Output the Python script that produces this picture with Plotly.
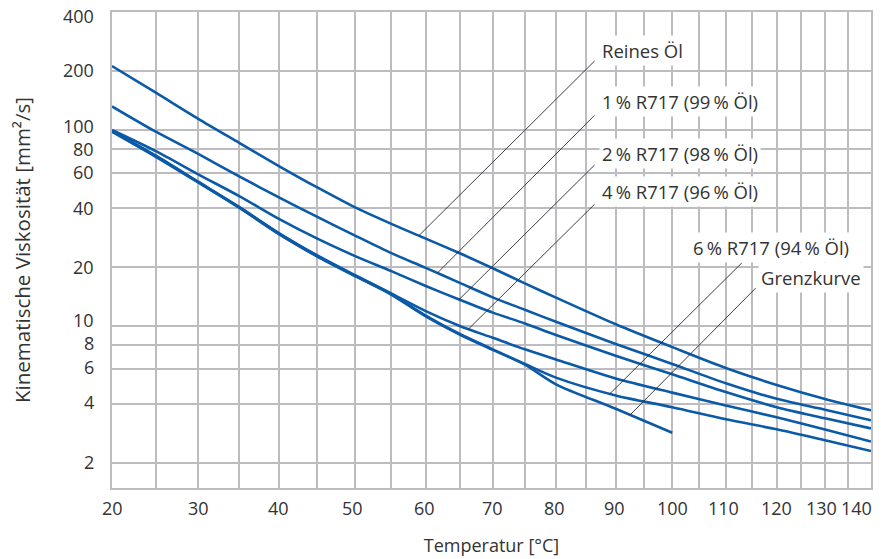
import numpy as np
import plotly.graph_objects as go

# ---------------- data ----------------
temps = [20, 25, 30, 35, 40, 45, 50, 55, 60, 65, 70, 75, 80, 90, 100, 110, 120, 130, 140]
reines_oel = [212, 155, 114, 86, 65.5, 50.9, 40.4, 33.3, 27.9, 23.5, 19.7, 16.5, 13.95, 10.2, 7.8, 6.1, 5.0, 4.24, 3.71]
r717_1 = [132, 98, 75.5, 58.0, 45.3, 36, 29, 23.6, 19.8, 16.6, 14.0, 12.1, 10.5, 8.1, 6.4, 5.1, 4.25, 3.74, 3.30]
r717_2 = [100, 78, 59.4, 46, 35.2, 27.9, 22.8, 19.1, 16.0, 13.6, 11.7, 10.3, 9.0, 7.05, 5.67, 4.6, 3.85, 3.38, 3.0]
r717_4 = [99, 74, 54.5, 40.5, 29.8, 22.9, 18.2, 14.7, 11.9, 10.0, 8.7, 7.6, 6.75, 5.4, 4.57, 3.93, 3.42, 2.96, 2.57]
r717_6 = [98.5, 73.5, 54.2, 40.3, 29.6, 22.7, 18.1, 14.6, 11.3, 9.1, 7.6, 6.4, 5.45, 4.42, 3.85, 3.34, 2.97, 2.61, 2.30]
grenz_temps = [20, 25, 30, 35, 40, 45, 50, 55, 60, 65, 70, 75, 80, 90, 100]
grenzkurve = [98, 73, 54, 40.1, 29.4, 22.6, 18.0, 14.5, 11.2, 9.05, 7.55, 6.35, 5.04, 3.78, 2.85]

series_names = [
    "Reines Öl",
    "1\u2009% R717 (99\u2009% Öl)",
    "2\u2009% R717 (98\u2009% Öl)",
    "4\u2009% R717 (96\u2009% Öl)",
    "6\u2009% R717 (94\u2009% Öl)",
    "Grenzkurve",
]
series_temps = [temps, temps, temps, temps, temps, grenz_temps]
series_vals = [reines_oel, r717_1, r717_2, r717_4, r717_6, grenzkurve]

# label placement: temperature where the leader meets the curve,
# leader end (temperature, viscosity), text left edge (temperature, viscosity)
leader_temp = [59.0, 61.7, 64.9, 66.3, 89.0, 92.5]
leader_end_t = [86.4, 86.4, 86.4, 86.4, 113.1, 115.8]
leader_end_v = [225, 118.9, 66.3, 41.8, 21.0, 15.6]
label_t = [87.2, 87.2, 87.2, 87.2, 103.3, 116.3]
label_v = [255, 139.4, 76.0, 48.3, 25.0, 17.6]

x_grid_temps = list(range(20, 141, 5))
x_tick_temps = list(range(20, 141, 10))
x_tick_text = [str(t) for t in x_tick_temps]
x_tick_shift = [0, 0, 0, -2, -1, 0, -1, -1, 0, -2, 0, -4, -15]   # px nudges as in the original
y_ticks = [2, 4, 6, 8, 10, 20, 40, 60, 80, 100, 200, 400]
y_tick_text = [str(v) for v in y_ticks]
y_tick_shift = [0.5, 1.5, 2, 1.5, 6, 0, 0, 1, 0.5, 4.5, 1.5, -4]   # px nudges as in the original

x_title = "Temperatur [°C]"
y_title = "Kinematische Viskosität [mm²/s]"

# ---------------- styling ----------------
BLUE = "#0b5aa8"
GRID = "#bdbdc1"
TEXT = "#333333"
FONT = "Open Sans"


def xt(t):
    """Reciprocal absolute temperature scale used by the chart."""
    return -1000.0 / (np.asarray(t, dtype=float) + 273.15)


fig = go.Figure()

for name, ts, vs in zip(series_names, series_temps, series_vals):
    fig.add_trace(go.Scatter(
        x=xt(ts), y=vs, mode="lines", name=name,
        line=dict(color=BLUE, width=2.6, shape="spline", smoothing=0.8),
        hoverinfo="skip",
    ))

# leader lines and labels
for i, name in enumerate(series_names):
    ts, vs = series_temps[i], series_vals[i]
    lv = np.interp(xt(leader_temp[i]), xt(ts), np.log10(vs))
    fig.add_trace(go.Scatter(
        x=[float(xt(leader_temp[i])), float(xt(leader_end_t[i]))],
        y=[10 ** lv, leader_end_v[i]],
        mode="lines", line=dict(color="#2a2a2a", width=0.9),
        hoverinfo="skip", showlegend=False,
    ))
    fig.add_annotation(
        x=float(xt(label_t[i])), y=float(np.log10(label_v[i])),
        xref="x", yref="y", text=name, showarrow=False,
        xanchor="left", yanchor="middle",
        bgcolor="white", borderpad=2,
        font=dict(family=FONT, size=18.5, color=TEXT),
    )

# tick labels (placed on the axis scales, with the small nudges of the original)
for v, txt, dy in zip(y_ticks, y_tick_text, y_tick_shift):
    fig.add_annotation(
        x=0, xref="paper", y=float(np.log10(v)), yref="y",
        text=txt, showarrow=False, xanchor="right", yanchor="middle",
        xshift=-17, yshift=dy, borderpad=0,
        font=dict(family=FONT, size=18, color=TEXT),
    )
for t, txt, dx in zip(x_tick_temps, x_tick_text, x_tick_shift):
    fig.add_annotation(
        x=float(xt(t)), xref="x", y=0, yref="paper",
        text=txt, showarrow=False, xanchor="center", yanchor="middle",
        xshift=dx, yshift=-20, borderpad=0,
        font=dict(family=FONT, size=18, color=TEXT),
    )

fig.update_layout(
    width=889, height=559,
    margin=dict(l=112, r=18, t=12, b=71),
    paper_bgcolor="white", plot_bgcolor="white",
    showlegend=False,
    font=dict(family=FONT, size=18, color=TEXT),
)

fig.update_xaxes(
    range=[float(xt(20)) - 1e-6, float(xt(140)) + 1e-6],
    tickmode="array", tickvals=xt(x_grid_temps), showticklabels=False,
    showgrid=True, gridcolor=GRID, gridwidth=1.5,
    zeroline=False, showline=True, linecolor=GRID, linewidth=1.5, mirror=True,
    ticks="", automargin=False,
    title=dict(text=x_title, font=dict(family=FONT, size=18, color=TEXT), standoff=51),
)
fig.update_yaxes(
    type="log",
    range=[np.log10(1.49), np.log10(400) + 1e-4],
    tickmode="array", tickvals=y_ticks, showticklabels=False,
    showgrid=True, gridcolor=GRID, gridwidth=1.5,
    zeroline=False, showline=True, linecolor=GRID, linewidth=1.5, mirror=True,
    ticks="", automargin=False,
    title=dict(text=y_title, font=dict(family=FONT, size=20.5, color=TEXT), standoff=74),
)

fig.write_html("out.html")
